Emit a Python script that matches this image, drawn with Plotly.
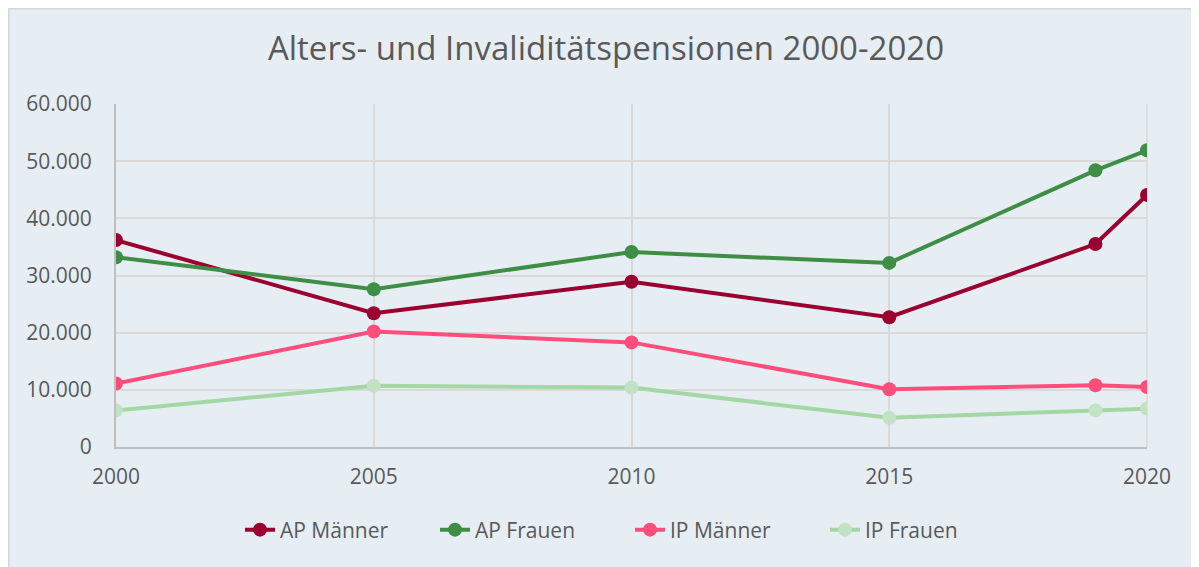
import plotly.graph_objects as go

years = [2000, 2005, 2010, 2015, 2019, 2020]
ap_maenner = [36200, 23400, 28900, 22700, 35500, 44100]
ap_frauen = [33200, 27600, 34100, 32200, 48400, 51900]
ip_maenner = [11100, 20200, 18300, 10100, 10800, 10500]
ip_frauen = [6400, 10700, 10400, 5100, 6400, 6700]

x_ticks = [2000, 2005, 2010, 2015, 2020]
y_ticks = [0, 10000, 20000, 30000, 40000, 50000, 60000]
y_labels = ["0", "10.000", "20.000", "30.000", "40.000", "50.000", "60.000"]

BG = "#E6EEF4"
FONT = "Open Sans"

series = [
    ("AP Männer", ap_maenner, "#9A0030", "#9A0030"),
    ("AP Frauen", ap_frauen, "#3E8E46", "#3E8E46"),
    ("IP Männer", ip_maenner, "#FF4D7C", "#FF4D7C"),
    ("IP Frauen", ip_frauen, "#A3D7A3", "#C3E2C3"),
]

fig = go.Figure()
for name, vals, lc, mc in series:
    fig.add_trace(go.Scatter(
        x=years, y=vals, name=name, mode="lines+markers",
        line=dict(color=lc, width=4),
        marker=dict(color=mc, size=14),
    ))

# page is offset by 8px (body margin); figure coords = page coords - 8
OFF = 8
W, H = 1191, 559
L, R, T, B = 116 - OFF, 52, 104 - OFF, 120
pw, ph = W - L - R, H - T - B

def px(xp):
    return (xp - L) / pw

def py(yp):
    return (H - B - yp) / ph

shapes = [
    dict(type="rect", xref="paper", yref="paper", x0=px(0), x1=px(W + 5), y0=py(H + 5), y1=py(0),
         fillcolor=BG, line=dict(width=0), layer="below"),
    dict(type="line", xref="paper", yref="paper", x0=px(0), x1=px(W + 5), y0=py(0.8), y1=py(0.8),
         line=dict(color="#D6D6D6", width=1.5), layer="below"),
    dict(type="line", xref="paper", yref="paper", x0=px(0.8), x1=px(0.8), y0=py(0), y1=py(H + 5),
         line=dict(color="#D6D6D6", width=1.5), layer="below"),
    dict(type="line", xref="paper", yref="paper", x0=1, x1=1, y0=0, y1=1,
         line=dict(color="#D9D9D9", width=1.5), layer="below"),
]

fig.update_layout(
    width=W, height=H,
    margin=dict(l=L, r=R, t=T, b=B),
    paper_bgcolor="white",
    plot_bgcolor="rgba(0,0,0,0)",
    font=dict(family=FONT, color="#595959", size=21),
    title=dict(text="Alters- und Invaliditätspensionen 2000-2020", x=(606 - OFF) / W, xanchor="center",
               y=1 - (48 - OFF) / H, yanchor="middle", font=dict(size=33, color="#595959", family=FONT)),
    xaxis=dict(range=[2000, 2020], tickvals=x_ticks, ticktext=[str(v) for v in x_ticks],
               showgrid=True, gridcolor="#D9D9D9", gridwidth=1.5,
               showline=True, linecolor="#BFBFBF", linewidth=2, mirror=False,
               zeroline=False, ticks="", ticklabelstandoff=10),
    yaxis=dict(range=[0, 60000], tickvals=y_ticks, ticktext=y_labels,
               showgrid=True, gridcolor="#D9D9D9", gridwidth=1.5,
               showline=True, linecolor="#BFBFBF", linewidth=2,
               zeroline=False, ticks="", ticklabelstandoff=18),
    legend=dict(orientation="h", x=px(240 - OFF), xanchor="left", y=py(530 - OFF), yanchor="middle",
                font=dict(size=21, color="#595959"), bgcolor="rgba(0,0,0,0)",
                entrywidth=150, entrywidthmode="pixels"),
    showlegend=True,
    shapes=shapes,
)

fig.write_html("out.html")
